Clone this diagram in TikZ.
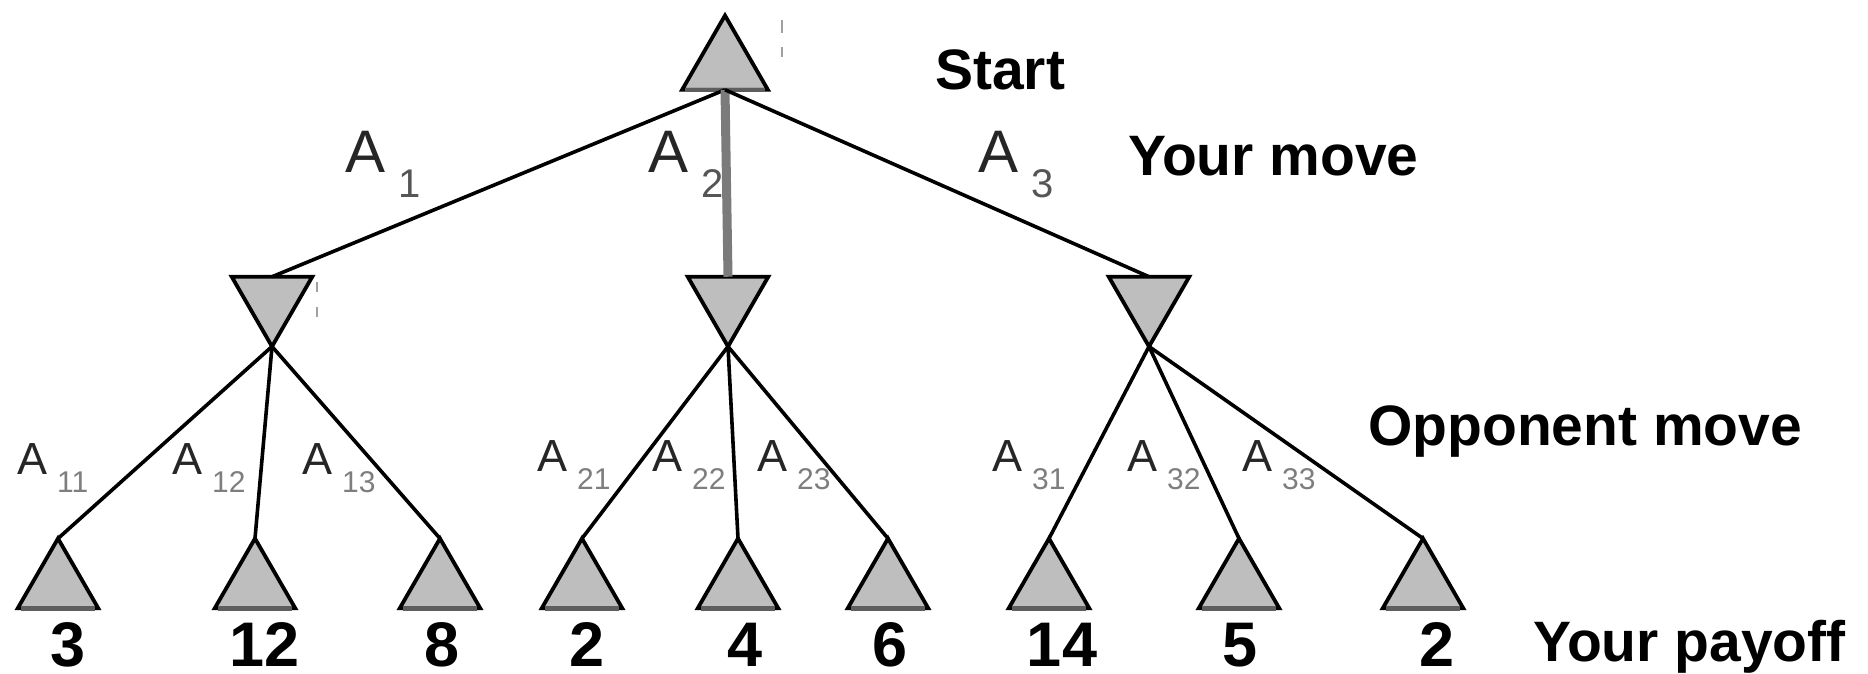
\documentclass[tikz,border=0pt]{standalone}
\usepackage{fontspec}
\setmainfont{Liberation Sans}
\usetikzlibrary{shapes.geometric}

\definecolor{trifill}{HTML}{BEBEBE}
\definecolor{basegray}{HTML}{5E5E5E}
\definecolor{bestgray}{HTML}{7B7B7B}
\definecolor{subdark}{HTML}{555555}
\definecolor{sublight}{HTML}{7E7E7E}
\definecolor{markgray}{HTML}{A0A0A0}

% action labels: A with its index set low and apart
\newcommand{\bigact}[1]{{\fontsize{60}{60}\selectfont A}\kern13pt\raisebox{-25pt}{\textcolor{subdark}{\fontsize{40}{40}\selectfont #1}}}
\newcommand{\smallact}[1]{{\fontsize{45}{45}\selectfont A}\kern10pt\raisebox{-18pt}{\textcolor{sublight}{\fontsize{30}{30}\selectfont #1}}}

\begin{document}
\begin{tikzpicture}[x=1pt, y=-1pt]
        \tikzstyle{maxtri} = [draw, regular polygon, regular polygon sides=3, fill=trifill, line width=3.8pt, minimum size=93pt, inner sep=0pt, outer sep=0pt]
        \tikzstyle{mintri} = [maxtri, shape border rotate=180]
        \tikzstyle{baseedge} = [basegray, line width=4.5pt, shorten <=3pt, shorten >=3pt]
        \tikzstyle{branch} = [line width=3.6pt]
        \tikzstyle{best} = [bestgray, line width=9pt]
        \tikzstyle{act} = [anchor=base west, inner sep=0pt, text=black!85]
        \tikzstyle{payoff} = [anchor=base, inner sep=0pt, font=\bfseries\fontsize{63}{63}\selectfont]
        \tikzstyle{level} = [anchor=base west, inner sep=0pt, font=\bfseries\fontsize{57}{57}\selectfont]
        \useasboundingbox (0,0) rectangle (1868,673);

        \node[maxtri, minimum size=99pt] (root) at (725,65) {};
        \node[mintri] (opp1) at (272,300) {};
        \node[mintri] (opp2) at (728,300) {};
        \node[mintri] (opp3) at (1149,300) {};
        \node[maxtri] (leaf11) at (58,585) {};
        \node[maxtri] (leaf12) at (255,585) {};
        \node[maxtri] (leaf13) at (440,585) {};
        \node[maxtri] (leaf21) at (582,585) {};
        \node[maxtri] (leaf22) at (738,585) {};
        \node[maxtri] (leaf23) at (888,585) {};
        \node[maxtri] (leaf31) at (1049,585) {};
        \node[maxtri] (leaf32) at (1239,585) {};
        \node[maxtri] (leaf33) at (1423,585) {};
        \foreach \t in {root,leaf11,leaf12,leaf13,leaf21,leaf22,leaf23,leaf31,leaf32,leaf33}
          \draw[baseedge] (\t.corner 2) -- (\t.corner 3);

        \draw[branch] (root.south) -- (opp1.north);
        \draw[best] (root.south) -- (opp2.north);
        \draw[branch] (root.south) -- (opp3.north);
        \draw[branch] (opp1.corner 1) -- (leaf11.corner 1);
        \draw[branch] (opp1.corner 1) -- (leaf12.corner 1);
        \draw[branch] (opp1.corner 1) -- (leaf13.corner 1);
        \draw[branch] (opp2.corner 1) -- (leaf21.corner 1);
        \draw[branch] (opp2.corner 1) -- (leaf22.corner 1);
        \draw[branch] (opp2.corner 1) -- (leaf23.corner 1);
        \draw[branch] (opp3.corner 1) -- (leaf31.corner 1);
        \draw[branch] (opp3.corner 1) -- (leaf32.corner 1);
        \draw[branch] (opp3.corner 1) -- (leaf33.corner 1);

        % stray marks beside the root and the first opponent node
        \draw[markgray, line width=2pt] (782,20) -- (782,33) (782,47) -- (782,57);
        \draw[markgray, line width=2pt] (317,282) -- (317,292) (317,307) -- (317,317);

        \node[act] (a1) at (345,172) {\bigact{1}};
        \node[act] (a2) at (648,172) {\bigact{2}};
        \node[act] (a3) at (978,172) {\bigact{3}};
        \node[act] (a11) at (17,474) {\smallact{11}};
        \node[act] (a12) at (172,474) {\smallact{12}};
        \node[act] (a13) at (302,474) {\smallact{13}};
        \node[act] (a21) at (537,471) {\smallact{21}};
        \node[act] (a22) at (652,471) {\smallact{22}};
        \node[act] (a23) at (757,471) {\smallact{23}};
        \node[act] (a31) at (992,471) {\smallact{31}};
        \node[act] (a32) at (1127,471) {\smallact{32}};
        \node[act] (a33) at (1242,471) {\smallact{33}};

        \node[payoff] (p11) at (68,666) {3};
        \node[payoff] (p12) at (265,666) {12};
        \node[payoff] (p13) at (442,666) {8};
        \node[payoff] (p21) at (587,666) {2};
        \node[payoff] (p22) at (745,666) {4};
        \node[payoff] (p23) at (890,666) {6};
        \node[payoff] (p31) at (1062,666) {14};
        \node[payoff] (p32) at (1240,666) {5};
        \node[payoff] (p33) at (1437,666) {2};

        \node[level] (start) at (935,89) {Start};
        \node[level] (yourmove) at (1128,175) {Your move};
        \node[level] (oppmove) at (1368,445) {Opponent move};
        \node[level] (yourpay) at (1533,661) {Your payoff};
      \end{tikzpicture}
\end{document}
